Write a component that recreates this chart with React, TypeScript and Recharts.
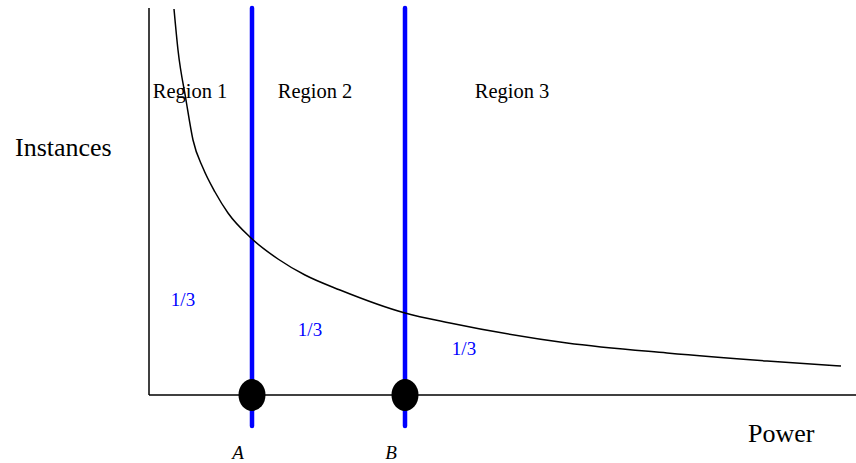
import { ComposedChart, Line, XAxis, YAxis, ReferenceLine, ReferenceDot } from "recharts"

// distribution curve, power vs. number of instances
const power = [25, 29, 37, 44, 54, 66, 79, 102, 129, 156, 191, 256, 301, 418, 518, 618, 692]
const instances = [386, 345, 295, 255, 227, 203, 182, 157, 136, 120, 105, 82, 72, 52, 42, 34, 29]

// thresholds on the power axis
const thresholds = [
  { name: "A", power: 103 },
  { name: "B", power: 256 },
]

const regionLabels = [
  { text: "Region 1", power: 41, instances: 297 },
  { text: "Region 2", power: 166, instances: 297 },
  { text: "Region 3", power: 363, instances: 297 },
]

const shareLabels = [
  { text: "1/3", power: 34, instances: 89 },
  { text: "1/3", power: 161, instances: 59 },
  { text: "1/3", power: 315, instances: 40 },
]

const data = power.map((p, i) => ({ power: p, instances: instances[i] }))

const serif = "'Liberation Serif', 'Times New Roman', serif"

const textShape = (text: string, size: number, color: string, italic = false) => (props: any) => (
  <text
    x={props.cx}
    y={props.cy}
    textAnchor="middle"
    fontFamily={serif}
    fontSize={size}
    fontStyle={italic ? "italic" : "normal"}
    fill={color}
  >
    {text}
  </text>
)

const knob = (props: any) => <ellipse cx={props.cx} cy={props.cy} rx={13.5} ry={16} fill="#000" />

export default function App() {
  return (
    <div style={{ position: "absolute", left: 0, top: 0, width: 856, height: 463 }}>
      <ComposedChart width={856} height={463} data={data} margin={{ top: 8, right: 0, left: 149, bottom: 68 }}>
        <XAxis dataKey="power" type="number" domain={[0, 707]} hide />
        <YAxis type="number" domain={[0, 387]} hide />

        <ReferenceLine x={0} stroke="#000" strokeWidth={1.5} />
        <ReferenceLine y={0} stroke="#000" strokeWidth={1.5} />

        {thresholds.map((t) => (
          <ReferenceLine
            key={t.name}
            ifOverflow="visible"
            segment={[
              { x: t.power, y: -31 },
              { x: t.power, y: 387 },
            ]}
            stroke="#0000ff"
            strokeWidth={4.5}
            strokeLinecap="round"
          />
        ))}

        <Line
          dataKey="instances"
          type="monotone"
          stroke="#000"
          strokeWidth={1.5}
          dot={false}
          isAnimationActive={false}
        />

        {thresholds.map((t) => (
          <ReferenceDot key={"k" + t.name} x={t.power} y={0} ifOverflow="visible" shape={knob} />
        ))}
        {thresholds.map((t) => (
          <ReferenceDot
            key={"l" + t.name}
            x={t.power - 14}
            y={-64}
            ifOverflow="visible"
            shape={textShape(t.name, 19, "#000", true)}
          />
        ))}

        {regionLabels.map((r) => (
          <ReferenceDot key={r.text} x={r.power} y={r.instances} shape={textShape(r.text, 20.5, "#000")} />
        ))}
        {shareLabels.map((s, i) => (
          <ReferenceDot key={"s" + i} x={s.power} y={s.instances} shape={textShape(s.text, 19, "#0000ff")} />
        ))}
      </ComposedChart>
      <div style={{ position: "absolute", left: 15, top: 134, fontFamily: serif, fontSize: 26, lineHeight: "28px" }}>
        Instances
      </div>
      <div style={{ position: "absolute", left: 748, top: 420, fontFamily: serif, fontSize: 26, lineHeight: "28px" }}>
        Power
      </div>
    </div>
  )
}
